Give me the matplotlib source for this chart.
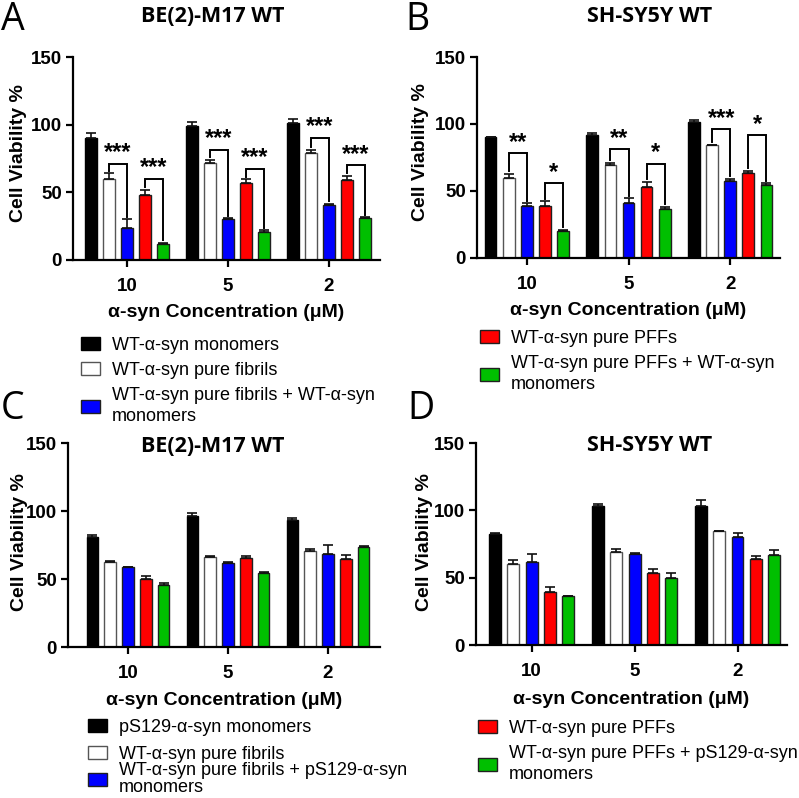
import matplotlib
matplotlib.use('Agg')
import matplotlib.pyplot as plt
from matplotlib import font_manager
import numpy as np

# ---------------- data ----------------
concentrations = ['10', '5', '2']
series_colors = ['#000000', '#FFFFFF', '#0000FF', '#FF0000', '#00BF00']
edge_colors = ['#000000', '#555555', '#202020', '#202020', '#202020']

labels_top = ['WT-α-syn monomers', 'WT-α-syn pure fibrils',
              'WT-α-syn pure fibrils + WT-α-syn\nmonomers',
              'WT-α-syn pure PFFs',
              'WT-α-syn pure PFFs + WT-α-syn\nmonomers']
labels_bottom = ['pS129-α-syn monomers', 'WT-α-syn pure fibrils',
                 'WT-α-syn pure fibrils + pS129-α-syn\nmonomers',
                 'WT-α-syn pure PFFs',
                 'WT-α-syn pure PFFs + pS129-α-syn\nmonomers']

# Panel A (BE(2)-M17 WT)
A_mono = [90.5, 99.0, 101.5];  A_mono_err = [3.5, 3.0, 3.0]
A_fib = [60.0, 71.5, 79.2];    A_fib_err = [4.0, 2.5, 2.4]
A_fibm = [23.6, 30.2, 40.6];   A_fibm_err = [6.4, 0.5, 0.7]
A_pff = [48.0, 56.6, 59.0];    A_pff_err = [4.0, 2.9, 3.0]
A_pffm = [11.8, 20.4, 30.7];   A_pffm_err = [0.7, 1.6, 0.8]
A_sig_fib_y = [71.3, 81.6, 90.5]; A_sig_fib_txt = ['***', '***', '***']
A_sig_pff_y = [60.2, 67.6, 70.0]; A_sig_pff_txt = ['***', '***', '***']

# Panel B (SH-SY5Y WT)
B_mono = [90.3, 92.0, 101.5];  B_mono_err = [0.3, 1.0, 1.5]
B_fib = [60.0, 69.4, 84.3];    B_fib_err = [3.0, 1.7, 0.0]
B_fibm = [38.5, 41.0, 57.7];   B_fibm_err = [2.3, 3.5, 1.3]
B_pff = [38.8, 53.0, 63.2];    B_pff_err = [3.5, 3.7, 2.0]
B_pffm = [20.4, 36.3, 54.7];   B_pffm_err = [0.6, 1.7, 1.0]
B_sig_fib_y = [78.0, 81.0, 96.0]; B_sig_fib_txt = ['**', '**', '***']
B_sig_pff_y = [55.7, 70.5, 92.0]; B_sig_pff_txt = ['*', '*', '*']

# Panel C (BE(2)-M17 WT, pS129 monomers)
C_mono = [80.6, 96.6, 93.4];   C_mono_err = [1.8, 1.9, 1.6]
C_fib = [62.5, 65.9, 70.6];    C_fib_err = [0.5, 1.0, 1.4]
C_fibm = [58.8, 61.8, 68.6];   C_fibm_err = [0.3, 0.7, 6.6]
C_pff = [50.2, 65.4, 64.7];    C_pff_err = [2.2, 1.6, 2.7]
C_pffm = [45.6, 54.4, 73.8];   C_pffm_err = [1.7, 1.0, 0.5]

# Panel D (SH-SY5Y WT, pS129 monomers)
D_mono = [82.2, 103.0, 103.3]; D_mono_err = [1.0, 1.5, 4.2]
D_fib = [60.3, 69.4, 84.4];    D_fib_err = [2.9, 1.8, 0.0]
D_fibm = [62.0, 67.9, 80.2];   D_fibm_err = [5.5, 0.5, 2.7]
D_pff = [39.0, 53.4, 63.9];    D_pff_err = [3.8, 3.4, 2.0]
D_pffm = [36.3, 50.1, 67.1];   D_pffm_err = [0.3, 3.2, 3.7]

yticks = [0, 50, 100, 150]

# ---------------- fonts ----------------
avail = {f.name for f in font_manager.fontManager.ttflist}
SANS = 'Liberation Sans' if 'Liberation Sans' in avail else 'DejaVu Sans'
TITLE = 'Open Sans' if 'Open Sans' in avail else SANS
plt.rcParams['font.family'] = [SANS, 'DejaVu Sans']

W, H = 799, 798
fig = plt.figure(figsize=(W / 100, H / 100), dpi=100)

BAR_W = 0.115
OFF = 0.178


def px_rect(l, r, top, bottom):
    return [l / W, 1 - bottom / H, (r - l) / W, (bottom - top) / H]


def make_panel(rect, xlim, means, errs, xlab_y, ylab_x, ylab_y):
    ax = fig.add_axes(rect)
    x = np.arange(len(concentrations))
    bars = []
    for i, (m, e) in enumerate(zip(means, errs)):
        pos = x + (i - 2) * OFF
        b = ax.bar(pos, m, BAR_W, color=series_colors[i],
                   edgecolor=edge_colors[i], linewidth=1.0, zorder=2)
        ax.errorbar(pos, m, yerr=[np.zeros(len(e)), e], fmt='none',
                    ecolor='#111111', elinewidth=1.2, capsize=3.5,
                    capthick=1.2, zorder=3)
        bars.append(b)
    ax.set_xlim(*xlim)
    ax.set_ylim(0, 150)
    ax.set_yticks(yticks)
    ax.set_xticks(x)
    ax.set_xticklabels(concentrations)
    for s in ['top', 'right']:
        ax.spines[s].set_visible(False)
    for s in ['left', 'bottom']:
        ax.spines[s].set_linewidth(1.6)
    ax.tick_params(axis='both', width=1.6, length=5, labelsize=13.5)
    ax.tick_params(axis='x', pad=8)
    ax.tick_params(axis='y', pad=3)
    for lab in ax.get_xticklabels() + ax.get_yticklabels():
        lab.set_fontweight('bold')
    ax.set_xlabel('α-syn Concentration (μM)', fontsize=14, fontweight='bold')
    ax.xaxis.set_label_coords(0.5, xlab_y)
    ax.xaxis.label.set_va('center')
    ax.set_ylabel('Cell Viability %', fontsize=14, fontweight='bold')
    ax.yaxis.set_label_coords(ylab_x, ylab_y)
    ax.yaxis.label.set_va('center')
    return ax, bars


def brackets(ax, means, errs, i_left, i_right, heights, texts):
    x = np.arange(len(concentrations))
    for k in range(len(x)):
        xl = x[k] + (i_left - 2) * OFF
        xr = x[k] + (i_right - 2) * OFF
        yl = means[i_left][k] + errs[i_left][k] + 2
        yr = means[i_right][k] + errs[i_right][k] + 2
        h = heights[k]
        ax.plot([xl, xl, xr, xr], [yl, h, h, yr], color='black', lw=1.4,
                solid_joinstyle='miter', zorder=4)
        ax.text((xl + xr) / 2, h + 3.0, texts[k], ha='center', va='baseline',
                fontsize=17, fontweight='bold', zorder=5)


A_means = [A_mono, A_fib, A_fibm, A_pff, A_pffm]
A_errs = [A_mono_err, A_fib_err, A_fibm_err, A_pff_err, A_pffm_err]
B_means = [B_mono, B_fib, B_fibm, B_pff, B_pffm]
B_errs = [B_mono_err, B_fib_err, B_fibm_err, B_pff_err, B_pffm_err]
C_means = [C_mono, C_fib, C_fibm, C_pff, C_pffm]
C_errs = [C_mono_err, C_fib_err, C_fibm_err, C_pff_err, C_pffm_err]
D_means = [D_mono, D_fib, D_fibm, D_pff, D_pffm]
D_errs = [D_mono_err, D_fib_err, D_fibm_err, D_pff_err, D_pffm_err]

axA, barsA = make_panel(px_rect(73, 380, 57, 260), (-0.535, 2.505), A_means, A_errs,
                        -0.26, -0.179, 0.527)
brackets(axA, A_means, A_errs, 1, 2, A_sig_fib_y, A_sig_fib_txt)
brackets(axA, A_means, A_errs, 3, 4, A_sig_pff_y, A_sig_pff_txt)

axB, barsB = make_panel(px_rect(477, 780, 57, 258), (-0.49, 2.49), B_means, B_errs,
                        -0.262, -0.188, 0.527)
brackets(axB, B_means, B_errs, 1, 2, B_sig_fib_y, B_sig_fib_txt)
brackets(axB, B_means, B_errs, 3, 4, B_sig_pff_y, B_sig_pff_txt)

axC, barsC = make_panel(px_rect(68, 380, 443, 647), (-0.6, 2.52), C_means, C_errs,
                        -0.262, -0.154, 0.515)
axD, barsD = make_panel(px_rect(476, 787, 443, 645), (-0.54, 2.48), D_means, D_errs,
                        -0.27, -0.164, 0.51)

# titles
for (tx, ty, t) in [(213, 17, 'BE(2)-M17 WT'), (650, 17, 'SH-SY5Y WT'),
                    (213, 447, 'BE(2)-M17 WT'), (650, 445, 'SH-SY5Y WT')]:
    fig.text(tx / W, 1 - ty / H, t, ha='center', va='center', fontsize=15.5,
             fontweight='bold', family=[TITLE, 'DejaVu Sans'])

# panel letters
for (lx, ly, t) in [(1, 30, 'A'), (405, 30, 'B'), (1, 419, 'C'), (407, 419, 'D')]:
    fig.text(lx / W, 1 - ly / H, t, ha='left', va='baseline', fontsize=27,
             family=[TITLE, 'DejaVu Sans'])

# legends
base_kw = dict(loc='upper left', frameon=False, fontsize=13, handlelength=1.05,
               handleheight=0.72, handletextpad=0.66, borderpad=0,
               borderaxespad=0)


def add_legend(handles, labels, ax_px, ay_px, ls=0.45, linesp=1.3):
    lg = fig.legend(handles, labels, bbox_to_anchor=(ax_px / W, 1 - ay_px / H),
                    labelspacing=ls, **base_kw)
    for t in lg.get_texts():
        t.set_linespacing(linesp)
    return lg


add_legend([barsA[i][0] for i in range(3)], labels_top[:3], 81, 337)
add_legend([barsB[i][0] for i in range(3, 5)], labels_top[3:], 480, 330)
add_legend([barsC[i][0] for i in range(2)], labels_bottom[:2], 88, 719, ls=0.56)
add_legend([barsC[2][0]], labels_bottom[2:3], 88, 762, linesp=1.0)
add_legend([barsD[i][0] for i in range(3, 5)], labels_bottom[3:], 478, 720)

fig.savefig('out.png', dpi=100)
